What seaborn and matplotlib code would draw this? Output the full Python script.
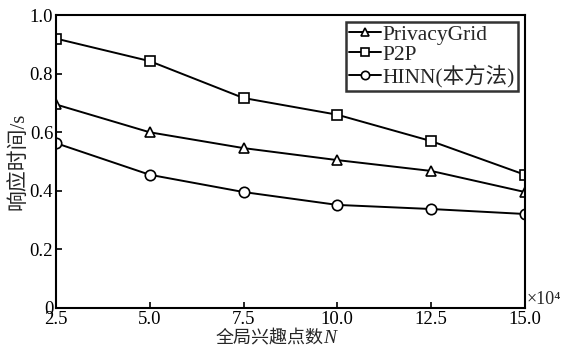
import pandas as pd
import numpy as np
import seaborn as sns
import matplotlib.pyplot as plt

# Data
n_poi = [2.5, 5.0, 7.5, 10.0, 12.5, 15.0]
privacygrid = [0.695, 0.600, 0.546, 0.505, 0.468, 0.396]
p2p = [0.920, 0.843, 0.717, 0.660, 0.570, 0.455]
hinn = [0.563, 0.455, 0.396, 0.352, 0.338, 0.321]
series_names = ['PrivacyGrid', 'P2P', 'HINN(本方法)']

df = pd.DataFrame({
    'N': n_poi * 3,
    'time': privacygrid + p2p + hinn,
    'method': np.repeat(series_names, len(n_poi)),
})

sns.set_style('ticks')
plt.rcParams['font.family'] = ['Liberation Serif', 'Noto Sans CJK SC']

fig = plt.figure(figsize=(5.65, 3.52), dpi=100)
ax = fig.add_axes([0.099, 0.125, 0.830, 0.832])

sns.lineplot(data=df, x='N', y='time', hue='method', style='method',
             palette=['black'] * 3, markers=['^', 's', 'o'], dashes=False,
             linewidth=1.4, markersize=7.5, markerfacecolor='white',
             markeredgecolor='black', markeredgewidth=1.2, ax=ax)

ax.set_xlim(2.5, 15.0)
ax.set_ylim(0, 1.0)
ax.set_xticks(n_poi)
ax.set_xticklabels(['2.5', '5.0', '7.5', '10.0', '12.5', '15.0'])
ax.set_yticks([0, 0.2, 0.4, 0.6, 0.8, 1.0])
ax.set_yticklabels(['0', '0.2', '0.4', '0.6', '0.8', '1.0'])
ax.tick_params(direction='in', length=4, width=1.2, labelsize=13.5, colors='black', pad=2)
for s in ax.spines.values():
    s.set_linewidth(1.5)
    s.set_color('black')

# x label: Chinese text followed by an italic N
xl = ax.set_xlabel('全局兴趣点数', fontsize=13, labelpad=3)
ax.xaxis.set_label_coords(0.455, -0.075)
ax.annotate('N', xy=(1, 0.5), xycoords=xl, fontsize=14, style='italic',
            ha='left', va='center')
ax.set_ylabel('响应时间/s', fontsize=15, labelpad=1)
ax.text(1.003, 0.03, '×10⁴', transform=ax.transAxes, fontsize=13,
        va='center', ha='left', family=['Liberation Serif', 'DejaVu Serif'])

leg = ax.legend(loc='upper right', fontsize=15.5, frameon=True, fancybox=False,
                edgecolor='black', handlelength=1.45, handletextpad=0.1,
                borderpad=0.15, labelspacing=0.0, borderaxespad=0.3,
                markerscale=0.8)
leg.get_frame().set_linewidth(1.8)
leg.set_title(None)

fig.savefig('out.png', dpi=100)
